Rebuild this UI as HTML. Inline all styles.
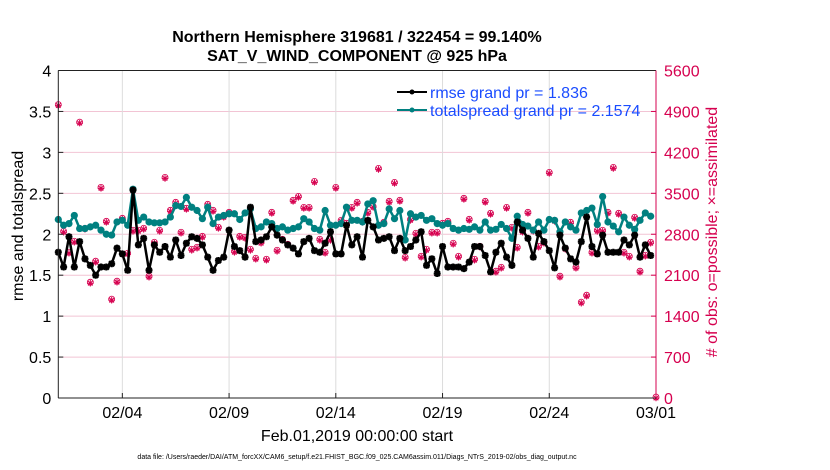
<!DOCTYPE html>
<html><head><meta charset="utf-8"><style>
body{margin:0;background:#fff;}
svg{display:block;font-family:"Liberation Sans",Arial,sans-serif;}
</style></head><body>
<svg id="chart" width="830" height="470" viewBox="0 0 830 470">
<text x="357" y="42" text-anchor="middle" font-size="16" font-weight="bold">Northern Hemisphere 319681 / 322454 = 99.140%</text>
<text x="357" y="61" text-anchor="middle" font-size="16" font-weight="bold">SAT_V_WIND_COMPONENT @ 925 hPa</text>
<text transform="translate(23,226) rotate(-90)" text-anchor="middle" font-size="16">rmse and totalspread</text>
<text transform="translate(717,232) rotate(-90)" text-anchor="middle" font-size="16" fill="#d6004f"># of obs: o=possible; ×=assimilated</text>
<text x="357" y="441" text-anchor="middle" font-size="16">Feb.01,2019 00:00:00 start</text>
<text x="357" y="459" text-anchor="middle" font-size="7">data file: /Users/raeder/DAI/ATM_forcXX/CAM6_setup/f.e21.FHIST_BGC.f09_025.CAM6assim.011/Diags_NTrS_2019-02/obs_diag_output.nc</text>
<g id="grid"></g><g id="obs"></g><g id="series"></g><g id="axes"></g>
<g>
<line x1="397" y1="92" x2="427" y2="92" stroke="#000" stroke-width="2"/>
<circle cx="412" cy="92" r="2.5" fill="#000"/>
<text x="430" y="98" font-size="16" fill="#1a4cff">rmse grand pr = 1.836</text>
<line x1="397" y1="110" x2="427" y2="110" stroke="#008080" stroke-width="2"/>
<circle cx="412" cy="110" r="2.5" fill="#008080"/>
<text x="430" y="116" font-size="16" fill="#1a4cff">totalspread grand pr = 2.1574</text>
</g>
</svg>
<script>
const xTickLabels=["02/04","02/09","02/14","02/19","02/24","03/01"];
const xTickDays=[3,8,13,18,23,28];
const leftTicks=[0,0.5,1,1.5,2,2.5,3,3.5,4];
const rightTicks=[0,700,1400,2100,2800,3500,4200,4900,5600];
const rmse=[1.78,1.60,1.97,1.60,1.91,1.70,1.62,1.50,1.60,1.60,1.64,1.83,1.76,1.56,2.54,1.87,1.95,1.56,1.87,1.78,1.85,1.72,1.93,1.74,1.89,1.97,1.95,1.87,1.72,1.56,1.68,1.72,2.05,1.85,1.80,1.72,2.33,1.91,1.93,1.97,
2.09,1.99,1.93,1.87,1.83,1.76,1.91,1.95,1.80,1.78,1.89,2.03,1.76,1.76,2.11,1.87,1.97,1.72,2.17,2.09,1.93,1.95,1.97,1.80,1.95,1.80,1.85,1.93,2.03,1.62,1.70,1.52,1.85,1.60,1.60,1.60,1.58,
1.66,1.85,1.85,1.74,1.54,1.78,1.89,1.72,1.62,2.15,2.05,1.95,1.72,2.01,1.91,1.80,1.59,1.99,1.83,1.70,1.66,1.91,2.21,1.85,1.76,1.99,1.78,1.78,1.78,1.93,1.87,1.99,1.72,1.87,1.74];
const spread=[2.18,2.11,2.13,2.23,2.07,2.07,2.09,2.11,2.05,2.00,1.99,2.15,2.17,2.11,2.55,2.17,2.21,2.15,2.14,2.14,2.15,2.21,2.35,2.34,2.45,2.33,2.29,2.19,2.33,2.13,2.21,2.23,2.25,2.25,2.18,2.26,2.31,2.07,2.09,2.15,
2.13,2.07,2.09,2.05,2.07,2.09,2.19,2.15,2.07,2.05,2.29,2.11,2.11,2.13,2.33,2.17,2.17,2.15,2.37,2.41,2.11,2.13,2.31,2.19,2.29,1.93,2.25,2.21,2.23,2.17,2.19,2.13,2.11,2.13,2.07,2.05,2.07,
2.06,2.09,2.05,2.15,2.05,2.06,2.12,2.07,1.95,2.22,2.12,2.10,2.05,2.15,2.05,2.18,2.17,2.03,2.15,2.09,2.05,2.26,2.29,2.32,2.12,2.46,2.15,2.10,2.03,2.21,2.11,2.06,2.17,2.26,2.22];
const obsCount=[5000,2834,2475,2663,4700,2885,1963,2322,3585,3004,1673,1980,3055,2458,2851,2851,2885,2066,2646,2851,3755,3192,3329,2817,3226,2526,2561,2748,3295,3192,2902,3090,3158,2492,2748,2731,2526,2373,2646,2356,
3158,2509,2697,2612,3363,3431,3243,3243,3687,2697,2475,2697,3585,3022,2970,3243,3329,3004,3158,3260,3909,2987,3346,3670,3363,2390,3038,2800,2407,2526,2817,2817,2970,3004,2629,2407,3397,
3038,2356,2578,3346,3141,2151,2219,3243,2902,2561,2834,3158,2851,2578,2646,3841,3022,2066,2543,2987,2219,1622,1741,2475,2851,2851,3158,3926,3141,2475,2407,3073,2151,2424,2646,0];

const NS="http://www.w3.org/2000/svg";
const X0=58.3,X1=656,Y0=398,Y1=70.5;
const xDay=d=>X0+(X1-X0)*d/28;
const xIdx=i=>xDay(i/4);
const yL=v=>Y0-(Y0-Y1)*v/4;
const yR=v=>Y0-(Y0-Y1)*v/5600;
function mk(tag,attrs,parent){const e=document.createElementNS(NS,tag);for(const k in attrs)e.setAttribute(k,attrs[k]);parent.appendChild(e);return e;}
const grid=document.getElementById('grid'),axes=document.getElementById('axes'),series=document.getElementById('series'),obsG=document.getElementById('obs');
const CR="#d6004f";
rightTicks.forEach((t,i)=>{
  const y=yR(t);
  if(i>0&&i<rightTicks.length-1){const g=mk('line',{x1:X0,x2:X1,y1:y,y2:y,stroke:"#f2c4d4","stroke-width":1},grid);
  
  }
  mk('line',{x1:X1-5,x2:X1,y1:y,y2:y,stroke:CR},axes);
  const tx=mk('text',{x:X1+8,y:y+6,"font-size":16,fill:CR},axes);tx.textContent=t;
  
  
});
leftTicks.forEach(t=>{
  const y=yL(t);
  mk('line',{x1:X0,x2:X0+5,y1:y,y2:y,stroke:"#222"},axes);
  const tx=mk('text',{x:X0-7,y:y+6,"font-size":16,"text-anchor":"end"},axes);tx.textContent=t;
  
  
});
xTickDays.forEach((d,i)=>{
  const x=xDay(d);
  if(d<28){const g=mk('line',{x1:x,x2:x,y1:Y1,y2:Y0,stroke:"#dcdcdc"},grid);
  
  }
  mk('line',{x1:x,x2:x,y1:Y0,y2:Y0-5,stroke:"#222"},axes);
  const tx=mk('text',{x:x,y:Y0+20,"font-size":16,"text-anchor":"middle"},axes);tx.textContent=xTickLabels[i];
  
  
});
mk('line',{x1:X0,x2:X1,y1:Y1,y2:Y1,stroke:"#222"},axes);
mk('line',{x1:X0,x2:X1,y1:Y0,y2:Y0,stroke:"#222"},axes);
mk('line',{x1:X0,x2:X0,y1:Y1,y2:Y0,stroke:"#222"},axes);
mk('line',{x1:X1,x2:X1,y1:Y1,y2:Y0,stroke:CR},axes);
obsCount.forEach((v,i)=>{
  const x=xIdx(i),y=yR(v);
  const g=mk('g',{stroke:CR,"stroke-width":0.8,fill:"none"},obsG);
  
  
  mk('circle',{cx:x,cy:y-1,r:3},g);
  mk('path',{d:`M${x-3.3} ${y}H${x+3.3}M${x} ${y-3.3}V${y+3.3}M${x-2.3} ${y-2.3}L${x+2.3} ${y+2.3}M${x-2.3} ${y+2.3}L${x+2.3} ${y-2.3}`,"stroke-width":1},g);
});
function drawLine(vals,color,name,marker){
  const pts=vals.map((v,i)=>xIdx(i).toFixed(1)+","+yL(v).toFixed(1)).join(" ");
  const pl=mk('polyline',{points:pts,fill:"none",stroke:color,"stroke-width":2.5,"stroke-linejoin":"round"},series);
  
  
  vals.forEach((v,i)=>{
    const x=xIdx(i),y=yL(v);
    let m;
    if(marker==='circle'){m=mk('circle',{cx:x,cy:y,r:3.6,fill:color},series);}
    else{m=mk('path',{d:`M${x-3.5} ${y}H${x+3.5}M${x} ${y-3.5}V${y+3.5}M${x-2.6} ${y-2.6}L${x+2.6} ${y+2.6}M${x-2.6} ${y+2.6}L${x+2.6} ${y-2.6}`,stroke:color,"stroke-width":2.2},series);
      mk('circle',{cx:x,cy:y,r:2,fill:color},series);}
    
    
  });
}
drawLine(spread,"#008080","totalspread","circle");
drawLine(rmse,"#000000","rmse","star");
</script>
</body></html>
